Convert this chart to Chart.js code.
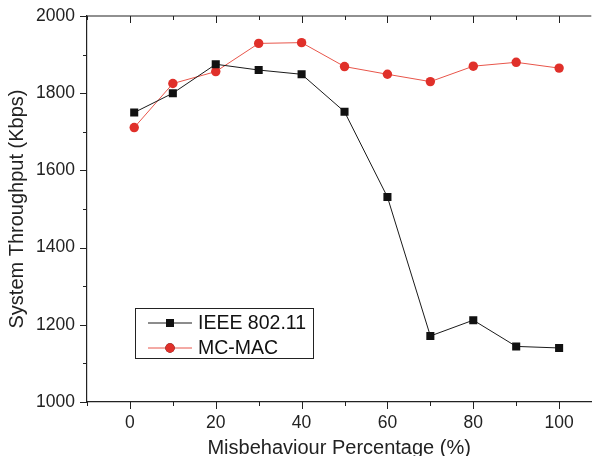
<!DOCTYPE html>
<html>
<head>
<meta charset="utf-8">
<script src="https://cdn.jsdelivr.net/npm/chart.js@4.4.0/dist/chart.umd.min.js"></script>
<style>
  html, body { margin: 0; padding: 0; background: #fff; }
  #wrap { width: 597px; height: 456px; }
</style>
</head>
<body>
<div id="wrap"><canvas id="c" width="597" height="456"></canvas></div>
<script>
(function () {
    'use strict';

    var percentages = [1, 10, 20, 30, 40, 50, 60, 70, 80, 90, 100];
    var ieeeValues = [1750, 1800, 1875, 1860, 1849, 1752, 1531, 1171, 1212, 1144, 1140];
    var mcmacValues = [1711, 1825, 1856, 1929, 1931, 1869, 1849, 1830, 1870, 1880, 1865];
    var xTickLabels = [0, 20, 40, 60, 80, 100];
    var yTickLabels = [1000, 1200, 1400, 1600, 1800, 2000];

    var fontFamily = '"Liberation Sans", Arial, Helvetica, sans-serif';

    function toPoints(values) {
        return values.map(function (v, i) {
            return { x: percentages[i], y: v };
        });
    }

    // axis ticks: majors longer, minors short; top axis ticks point inward
    var tickPlugin = {
        id: 'originTicks',
        afterDraw: function (chart) {
            var ctx = chart.ctx;
            var area = chart.chartArea;
            var xs = chart.scales.x;
            var ys = chart.scales.y;
            ctx.save();
            ctx.strokeStyle = '#222';
            ctx.lineWidth = 1.2;
            ctx.beginPath();
            ctx.moveTo(area.left, area.top);
            ctx.lineTo(area.right, area.top);
            ctx.stroke();
            ctx.lineWidth = 1;
            var v, px, len;
            for (v = -10; v <= 100; v += 10) {
                px = Math.round(xs.getPixelForValue(v)) + 0.5;
                len = xTickLabels.indexOf(v) >= 0 ? 7 : 4;
                ctx.beginPath();
                ctx.moveTo(px, area.bottom);
                ctx.lineTo(px, area.bottom + len);
                ctx.moveTo(px, area.top);
                ctx.lineTo(px, area.top + len);
                ctx.stroke();
            }
            for (v = 1000; v <= 2000; v += 100) {
                px = Math.round(ys.getPixelForValue(v)) + 0.5;
                len = yTickLabels.indexOf(v) >= 0 ? 7 : 4;
                ctx.beginPath();
                ctx.moveTo(area.left, px);
                ctx.lineTo(area.left - len, px);
                ctx.stroke();
            }
            ctx.restore();
        }
    };

    // boxed legend inside the plot
    var legendPlugin = {
        id: 'boxLegend',
        afterDraw: function (chart) {
            var ctx = chart.ctx;
            var box = { x: 135.5, y: 308.5, w: 178, h: 50 };
            ctx.save();
            ctx.strokeStyle = '#222';
            ctx.lineWidth = 1;
            ctx.strokeRect(box.x, box.y, box.w, box.h);
            ctx.font = '19.5px ' + fontFamily;
            ctx.textBaseline = 'middle';
            chart.data.datasets.forEach(function (ds, i) {
                var cy = 323 + i * 25;
                ctx.strokeStyle = ds.borderColor;
                ctx.lineWidth = 1;
                ctx.beginPath();
                ctx.moveTo(148, cy);
                ctx.lineTo(192, cy);
                ctx.stroke();
                Chart.helpers.drawPoint(ctx, {
                    pointStyle: ds.pointStyle,
                    radius: ds.pointRadius,
                    borderWidth: 0
                }, 170, cy);
                ctx.fillStyle = ds.pointBackgroundColor;
                ctx.fill();
                ctx.fillStyle = '#111';
                ctx.fillText(ds.label, 198, cy + 1);
            });
            ctx.restore();
        }
    };

    new Chart(document.getElementById('c'), {
        type: 'line',
        data: {
            datasets: [{
                label: 'IEEE 802.11',
                data: toPoints(ieeeValues),
                borderColor: '#1a1a1a',
                borderWidth: 1,
                pointStyle: 'rect',
                pointRadius: 5.7,
                pointBackgroundColor: '#111',
                pointBorderWidth: 0,
                tension: 0
            }, {
                label: 'MC-MAC',
                data: toPoints(mcmacValues),
                borderColor: '#e8554a',
                borderWidth: 1,
                pointStyle: 'circle',
                pointRadius: 4.7,
                pointBackgroundColor: '#e0302a',
                pointBorderWidth: 0,
                tension: 0
            }]
        },
        options: {
            responsive: false,
            animation: false,
            devicePixelRatio: 1,
            layout: { padding: { top: 16, right: 0, left: 0, bottom: 0 } },
            plugins: {
                legend: { display: false },
                tooltip: { enabled: false }
            },
            scales: {
                x: {
                    type: 'linear',
                    min: -10,
                    max: 107.5,
                    afterFit: function (scale) { scale.height = 54; },
                    grid: { display: false },
                    border: { display: true, color: '#222', width: 1.2 },
                    ticks: {
                        stepSize: 10,
                        includeBounds: false,
                        autoSkip: false,
                        maxRotation: 0,
                        padding: 3,
                        color: '#222',
                        font: { family: fontFamily, size: 17.5 },
                        callback: function (v) {
                            return xTickLabels.indexOf(v) >= 0 ? String(v) : '';
                        }
                    },
                    title: {
                        display: true,
                        text: 'Misbehaviour Percentage (%)',
                        color: '#222',
                        font: { family: fontFamily, size: 20 },
                        padding: { top: 0, bottom: -4 }
                    }
                },
                y: {
                    min: 1000,
                    max: 2000,
                    afterFit: function (scale) { scale.width = 87; },
                    grid: { display: false },
                    border: { display: true, color: '#222', width: 1.2 },
                    ticks: {
                        stepSize: 100,
                        autoSkip: false,
                        padding: 4,
                        color: '#222',
                        font: { family: fontFamily, size: 17.5 },
                        callback: function (v) {
                            return yTickLabels.indexOf(v) >= 0 ? String(v) : '';
                        }
                    },
                    title: {
                        display: true,
                        text: 'System Throughput (Kbps)',
                        color: '#222',
                        font: { family: fontFamily, size: 20 },
                        padding: { top: 5, bottom: 0 }
                    }
                }
            }
        },
        plugins: [tickPlugin, legendPlugin]
    });
})();
</script>
</body>
</html>
